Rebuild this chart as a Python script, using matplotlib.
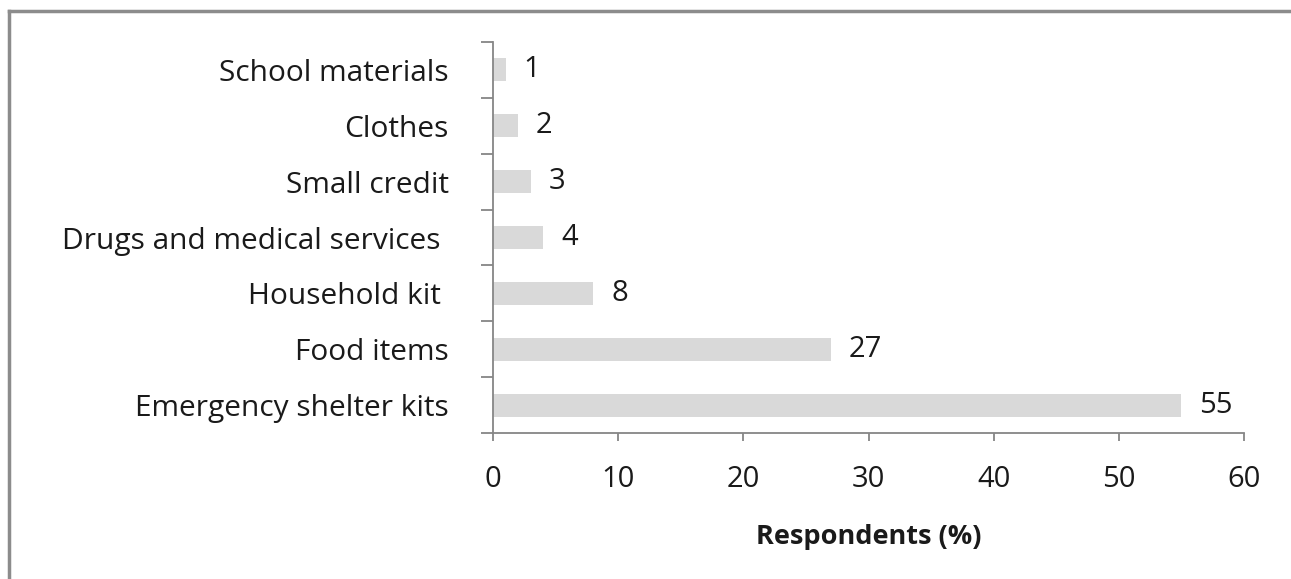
import matplotlib.pyplot as plt
import numpy as np

categories = ["Emergency shelter kits", "Food items", "Household kit ", "Drugs and medical services ",
              "Small credit", "Clothes", "School materials"]
values = [55, 27, 8, 4, 3, 2, 1]
x_ticks = [0, 10, 20, 30, 40, 50, 60]

AXIS_COLOR = "#868686"
BAR_COLOR = "#d9d9d9"
TEXT_COLOR = "#1a1a1a"
FONT = "Open Sans"

fig = plt.figure(figsize=(12.91, 5.79), dpi=100)
ax = fig.add_axes([493 / 1291, 1 - 433 / 579, (1244 - 493) / 1291, (433 - 42) / 579])

y = np.arange(len(categories))
ax.barh(y, values, height=0.41, color=BAR_COLOR)

# Value labels at the bar ends
for yi, v in zip(y, values):
    ax.annotate(str(v), (v, yi), xytext=(13, 0), textcoords="offset points",
                va="center", ha="left", fontsize=21, family=FONT, color=TEXT_COLOR)

ax.set_xlim(0, 60)
ax.set_ylim(-0.5, len(categories) - 0.5)
ax.set_xticks(x_ticks)
ax.set_yticks(y)
ax.set_yticklabels(categories)
ax.set_yticks(np.arange(-0.5, len(categories), 1), minor=True)

for s in ["top", "right"]:
    ax.spines[s].set_visible(False)
for s in ["left", "bottom"]:
    ax.spines[s].set_color(AXIS_COLOR)
    ax.spines[s].set_linewidth(1.3)

ax.tick_params(axis="y", which="major", length=0, pad=32, labelsize=21.5, labelcolor=TEXT_COLOR)
ax.tick_params(axis="y", which="minor", length=8.5, width=1.3, color=AXIS_COLOR, direction="out")
ax.tick_params(axis="x", which="major", length=6, width=1.3, color=AXIS_COLOR, direction="out",
               pad=17, labelsize=21, labelcolor=TEXT_COLOR)
for lbl in ax.get_xticklabels() + ax.get_yticklabels():
    lbl.set_family(FONT)

ax.set_xlabel("Respondents (%)", fontsize=19.5, fontweight="bold", family=FONT, labelpad=22, color=TEXT_COLOR)

# Outer frame (top and left edges visible)
fig.add_artist(plt.Line2D([9 / 1291, 9 / 1291], [0, 1 - 11 / 579], transform=fig.transFigure,
                          color="#8c8c8c", linewidth=2.5))
fig.add_artist(plt.Line2D([9 / 1291, 1], [1 - 11 / 579, 1 - 11 / 579], transform=fig.transFigure,
                          color="#8c8c8c", linewidth=2.5))

fig.savefig("out.png", dpi=100)
